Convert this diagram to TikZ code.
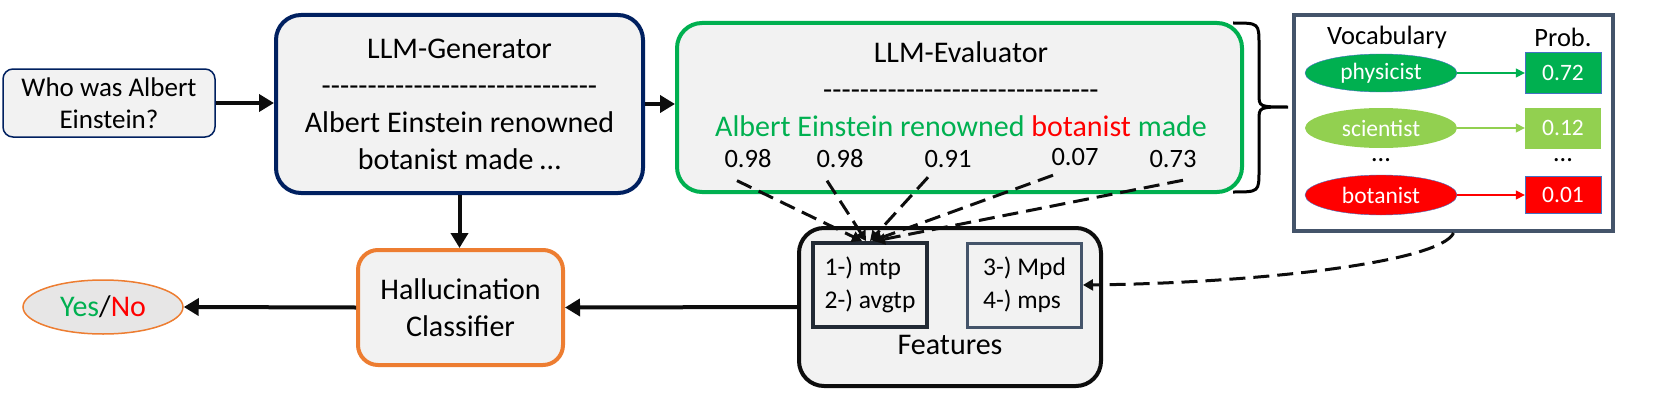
\documentclass[tikz,border=0pt]{standalone}
\usepackage{fontspec}
\setmainfont{Carlito}
\usetikzlibrary{positioning, arrows.meta, shapes.geometric}

\definecolor{navy}{HTML}{002060}
\definecolor{evalgreen}{HTML}{00B050}
\definecolor{lightgreen}{HTML}{92D050}
\definecolor{hallorange}{HTML}{ED7D31}
\definecolor{slate}{HTML}{44546A}
\definecolor{darkslate}{HTML}{222A35}
\definecolor{boxgray}{HTML}{F2F2F2}
\definecolor{yesnogray}{HTML}{E7E6E6}
\definecolor{tokenblue}{HTML}{4472C4}
\definecolor{arrowblack}{HTML}{0D0D0D}

\newcommand\hyphenline{\foreach \k in {1,...,30}{-\kern0pt}}

\begin{document}
\begin{tikzpicture}[x=1pt,y=-1pt,
    font=\fontsize{30}{37}\selectfont,
    bigbox/.style={draw, rectangle, rounded corners=25pt, fill=boxgray, line width=4pt, align=center},
    featbox/.style={draw, rectangle, fill=boxgray, minimum width=114pt, minimum height=84pt, align=left, font=\fontsize{25.5}{33}\selectfont},
    thick arrow/.style={line width=4pt, draw=arrowblack, -{Triangle[length=15pt,width=17pt]}},
    dash arrow/.style={line width=3pt, draw=arrowblack, dash pattern=on 16pt off 8pt, -{Triangle[length=10pt,width=11pt]}},
    token arrow/.style={line width=1.5pt, -{Triangle[length=9pt,width=9pt]}},
  ]
  \useasboundingbox (0,0) rectangle (1661,404);

  \node (query) [draw=navy, line width=1.5pt, rounded corners=10pt, fill=boxgray, minimum width=212pt, minimum height=68pt, align=center, font=\fontsize{27}{32}\selectfont] at (109,103) {Who was Albert\\Einstein?};

  \node (gen) [bigbox, draw=navy, minimum width=367pt, minimum height=178pt] at (459.5,104) {LLM-Generator\\\hyphenline\\Albert Einstein renowned\\botanist made …};

  \node (eval) [bigbox, draw=evalgreen, minimum width=565pt, minimum height=169pt] at (959.5,107.5) {};
  \node (evaltext) [align=center] at (961,89) {LLM-Evaluator\\\hyphenline\\\textcolor{evalgreen}{Albert Einstein renowned} \textcolor{red}{botanist} \textcolor{evalgreen}{made}};

  \begin{scope}[every node/.style={font=\fontsize{26.5}{32}\selectfont}]
    \node (p1) at (748,159) {0.98};
    \node (p2) at (840,159) {0.98};
    \node (p3) at (948,159) {0.91};
    \node (p4) at (1075,157) {0.07};
    \node (p5) at (1173,159) {0.73};
  \end{scope}

  \draw[line width=3pt] (1233,23) .. controls (1259,23) .. (1259,45) -- (1259,94) .. controls (1259,107) .. (1288,107) .. controls (1259,107) .. (1259,120) -- (1259,170) .. controls (1259,192) .. (1233,192);

  \node (vocab) [draw=slate, line width=4pt, fill=white, minimum width=319pt, minimum height=216pt] at (1453.5,123) {};
  \begin{scope}[every node/.style={font=\fontsize{26.5}{32}\selectfont}]
    \node (vochead) at (1387,37) {Vocabulary};
    \node (probhead) at (1563,37) {Prob.};
    \node (vocdots) [anchor=base] at (1381,161) {…};
    \node (probdots) [anchor=base] at (1563,161) {…};
  \end{scope}
  \begin{scope}[every node/.style={text=white, inner sep=0pt, font=\fontsize{23.5}{28}\selectfont}]
    \node (physicist) [ellipse, fill=evalgreen, draw=tokenblue, minimum width=152pt, minimum height=38pt] at (1381,73) {physicist};
    \node (scientist) [ellipse, fill=lightgreen, minimum width=152pt, minimum height=40pt] at (1381,128) {scientist};
    \node (botanist) [ellipse, fill=red, draw=tokenblue, minimum width=152pt, minimum height=40pt] at (1381,195) {botanist};
    \node (prob1) [fill=evalgreen, draw=tokenblue, minimum width=76pt, minimum height=41pt] at (1563,73) {0.72};
    \node (prob2) [fill=lightgreen, minimum width=76pt, minimum height=41pt] at (1563,128) {0.12};
    \node (prob3) [fill=red, draw=tokenblue, minimum width=76pt, minimum height=37pt] at (1563,195) {0.01};
  \end{scope}
  \draw[token arrow, evalgreen] (physicist) -- (prob1);
  \draw[token arrow, lightgreen] (scientist) -- (prob2);
  \draw[token arrow, red] (botanist) -- (prob3);

  \node (feat) [bigbox, draw=arrowblack, minimum width=302pt, minimum height=158pt] at (950,307) {};
  \node (featlabel) at (950,345) {Features};
  \node (mtp) [featbox, draw=darkslate, line width=4pt] at (870,285) {1-) mtp\\2-) avgtp};
  \node (mps) [featbox, draw=slate, line width=3pt] at (1024.5,285) {3-) Mpd\\4-) mps};

  \node (hall) [bigbox, draw=hallorange, rounded corners=20pt, minimum width=205pt, minimum height=115pt] at (460.5,307.5) {Hallucination\\Classifier};
  \node (yesno) [ellipse, draw=hallorange, line width=1.5pt, fill=yesnogray, minimum width=160pt, minimum height=54pt, inner sep=0pt] at (103,307) {\textcolor{evalgreen}{Yes}/\textcolor{red}{No}};

  \draw[thick arrow] (query.east) -- (query.east -| gen.west);
  \draw[thick arrow] (gen.east) -- (gen.east -| eval.west);
  \draw[thick arrow] (gen.south) -- (gen.south |- hall.north);
  \draw[thick arrow] (feat.west) -- (hall.east);
  \draw[thick arrow] (hall.west) -- (yesno.east);

  \draw[dash arrow] ([xshift=-11pt,yshift=-9pt]p1.south) -- ([xshift=-8pt]mtp.north);
  \draw[dash arrow] ([xshift=-13pt,yshift=-9pt]p2.south) -- ([xshift=-4pt]mtp.north);
  \draw[dash arrow] ([xshift=-20pt,yshift=-6pt]p3.south) -- (mtp.north);
  \draw[dash arrow] ([xshift=-22pt,yshift=-6pt]p4.south) -- ([xshift=2pt]mtp.north);
  \draw[dash arrow] ([xshift=10pt,yshift=-9pt]p5.south) -- ([xshift=5pt]mtp.north);
  \draw[dash arrow] (vocab.south) .. controls (1440,262) and (1260,283) .. (mps.east);
\end{tikzpicture}
\end{document}
